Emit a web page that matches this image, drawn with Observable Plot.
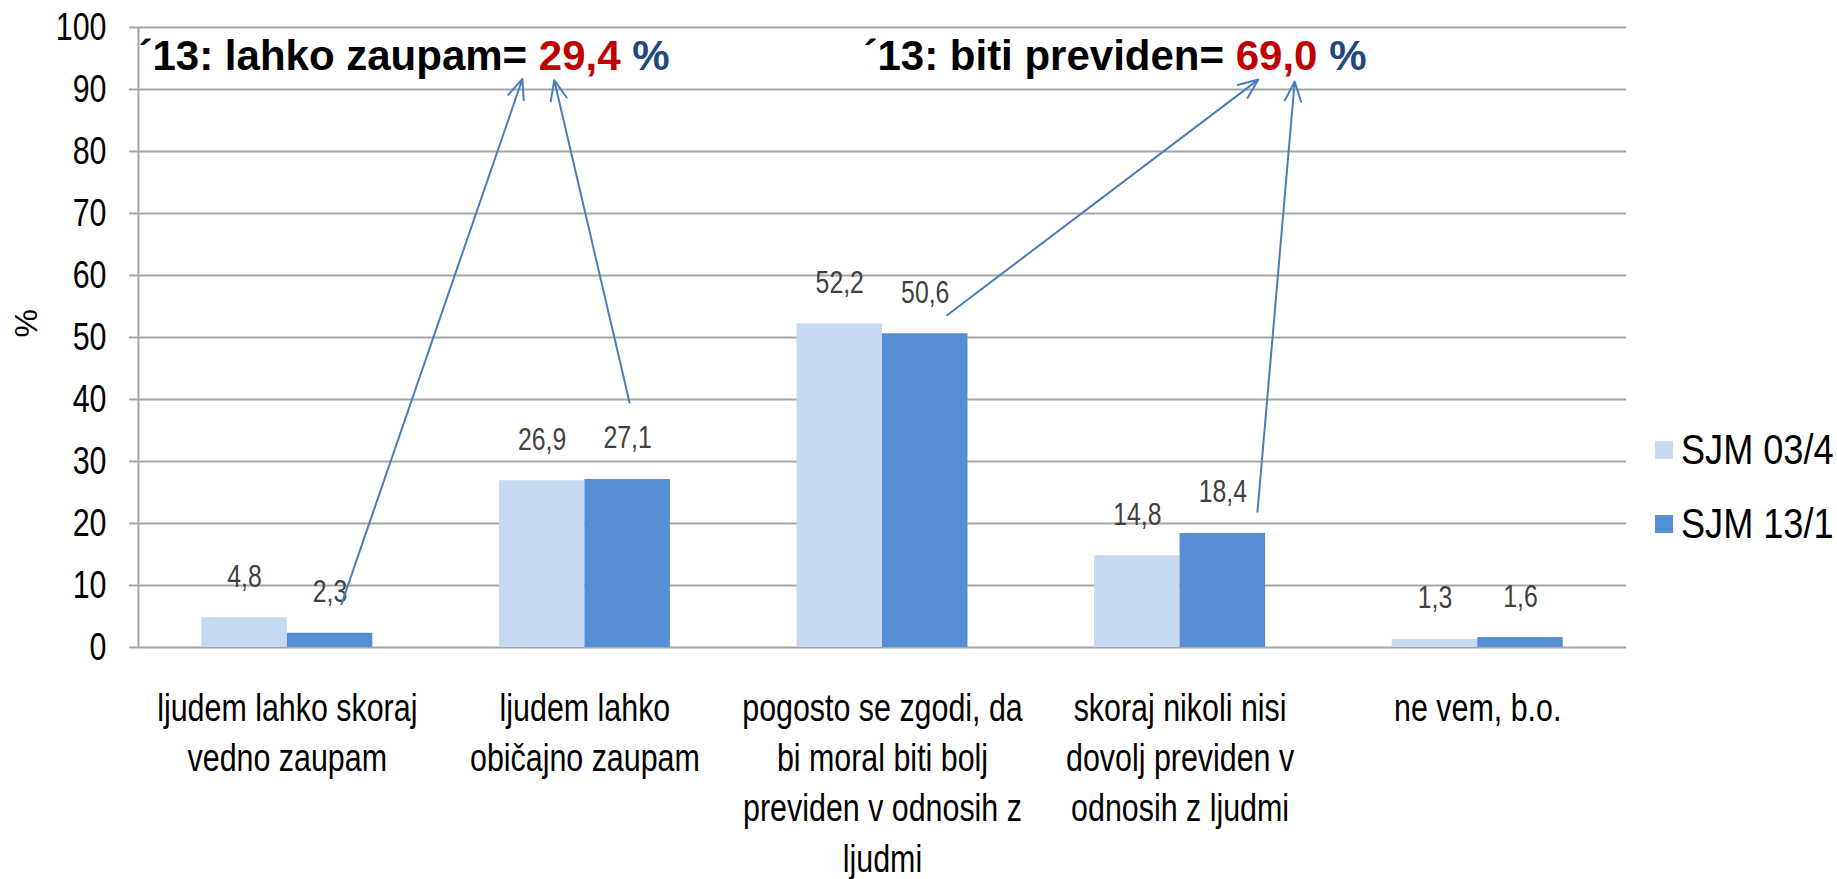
<!DOCTYPE html>
<html>
<head>
<meta charset="utf-8">
<script src="https://cdn.jsdelivr.net/npm/d3@7"></script>
<script src="https://cdn.jsdelivr.net/npm/@observablehq/plot@0.6"></script>
<style>
  html, body { margin: 0; padding: 0; background: #fff; }
  #chart { position: relative; width: 1837px; height: 879px; overflow: hidden; }
  .legend { position: absolute; left: 1655px; top: 0; font-size: 42px; color: #000; font-family: 'Liberation Sans', Arial, sans-serif; }
  .legend .item { position: absolute; left: 0; display: flex; align-items: center; white-space: nowrap; transform: translateY(-50%); }
  .legend .sw { width: 18px; height: 18px; margin-right: 8px; flex: none; }
  .legend .tx { display: inline-block; transform: scaleX(0.86); transform-origin: left center; }
</style>
</head>
<body>
<div id="chart"></div>
<script>
// ---- data ----
const categories = [
  "ljudem lahko skoraj vedno zaupam",
  "ljudem lahko običajno zaupam",
  "pogosto se zgodi, da bi moral biti bolj previden v odnosih z ljudmi",
  "skoraj nikoli nisi dovolj previden v odnosih z ljudmi",
  "ne vem, b.o."
];
const tickLabels = [
  "ljudem lahko skoraj\nvedno zaupam",
  "ljudem lahko\nobičajno zaupam",
  "pogosto se zgodi, da\nbi moral biti bolj\npreviden v odnosih z\nljudmi",
  "skoraj nikoli nisi\ndovolj previden v\nodnosih z ljudmi",
  "ne vem, b.o."
];
const series = ["SJM 03/4", "SJM 13/1"];
const values03 = [4.8, 26.9, 52.2, 14.8, 1.3];
const values13 = [2.3, 27.1, 50.6, 18.4, 1.6];
const yTicks = [0, 10, 20, 30, 40, 50, 60, 70, 80, 90, 100];

// annotation texts (parts with colours) and arrows (in data units)
const annotations = [
  {x: -0.5, y: 93.1, parts: [["´13: lahko zaupam= ", "#000000"], ["29,4", "#C00000"], [" %", "#1F497D"]]},
  {x: 1.936, y: 93.1, parts: [["´13: biti previden= ", "#000000"], ["69,0", "#C00000"], [" %", "#1F497D"]]}
];
const arrows = [
  {x1: 0.182, y1: 7.0, x2: 0.790, y2: 91.7},
  {x1: 1.150, y1: 39.5, x2: 0.897, y2: 91.5},
  {x1: 2.217, y1: 53.6, x2: 3.263, y2: 91.6},
  {x1: 3.260, y1: 21.9, x2: 3.385, y2: 91.3}
];

// ---- style ----
const colors = ["#C6D9F1", "#558ED5"];
const font = "'Liberation Sans', Arial, sans-serif";
const gridColor = "#A6A6A6";
const barW = 0.2873;
const squeeze = 0.8; // horizontal condensing of the regular texts

const rows = categories.flatMap((c, i) => [
  {i, category: c, series: series[0], s: 0, value: values03[i]},
  {i, category: c, series: series[1], s: 1, value: values13[i]}
]);
const fmt = v => v.toFixed(1).replace(".", ",");
const annText = a => a.parts.map(p => p[0]).join("");

const svg = Plot.plot({
  width: 1837,
  height: 879,
  marginLeft: 138,
  marginRight: 211,
  marginTop: 27,
  marginBottom: 232,
  x: {type: "linear", domain: [-0.5, 4.5], label: null},
  y: {domain: [0, 100], label: null},
  color: {domain: series, range: colors},
  style: {fontFamily: font, background: "#fff", color: "#000", overflow: "visible"},
  marks: [
    Plot.ruleY(yTicks, {stroke: gridColor, strokeWidth: 2}),
    Plot.ruleX([-0.5], {stroke: gridColor, strokeWidth: 2}),
    Plot.axisY(yTicks, {tickSize: 9, tickPadding: 23, stroke: gridColor, strokeWidth: 2, fill: "#000", fontSize: 38, label: null}),
    Plot.axisX([0, 1, 2, 3, 4], {tickSize: 0, tickPadding: 38, tickFormat: i => tickLabels[i], fontSize: 38, lineHeight: 1.32, fill: "#000", label: null}),
    Plot.text(["%"], {frameAnchor: "left", dx: -112, rotate: -90, fontSize: 32, fill: "#000"}),
    Plot.rectY(rows, {x1: d => d.i + (d.s - 1) * barW, x2: d => d.i + d.s * barW, y1: 0, y2: "value", fill: "series"}),
    Plot.text(rows, {x: d => d.i + (d.s - 0.5) * barW, y: "value", text: d => fmt(d.value), dy: -41, lineAnchor: "middle", fontSize: 31, fill: "#404040"}),
    Plot.arrow(arrows, {x1: "x1", y1: "y1", x2: "x2", y2: "y2", stroke: "#4A7EBB", strokeWidth: 2, headLength: 16, headAngle: 45}),
    Plot.text(annotations, {x: "x", y: "y", text: annText, textAnchor: "start", lineAnchor: "bottom", fontSize: 42, fontWeight: "bold", fill: "#000"})
  ]
});

const chart = document.getElementById("chart");
chart.appendChild(svg);

// colour the parts of the annotation strings; condense the other texts
d3.select(svg).selectAll("text").each(function () {
  const a = annotations.find(a => annText(a) === this.textContent);
  if (a) {
    const t = d3.select(this);
    t.text("");
    for (const [s, c] of a.parts) t.append("tspan").attr("fill", c).text(s);
    return;
  }
  const tr = this.getAttribute("transform") || "";
  if (/rotate/.test(tr)) return;
  if (tr) {
    this.setAttribute("transform", `${tr} scale(${squeeze},1)`);
  } else {
    const x = +(this.getAttribute("x") || 0), y = +(this.getAttribute("y") || 0);
    this.setAttribute("transform", `translate(${x},${y}) scale(${squeeze},1) translate(${-x},${-y})`);
  }
});

// legend
const legend = document.createElement("div");
legend.className = "legend";
const legendY = [450, 524];
series.forEach((s, k) => {
  const item = document.createElement("div");
  item.className = "item";
  item.style.top = legendY[k] + "px";
  const sw = document.createElement("span");
  sw.className = "sw";
  sw.style.background = colors[k];
  const tx = document.createElement("span");
  tx.className = "tx";
  tx.textContent = s;
  item.appendChild(sw);
  item.appendChild(tx);
  legend.appendChild(item);
});
chart.appendChild(legend);
</script>
</body>
</html>
